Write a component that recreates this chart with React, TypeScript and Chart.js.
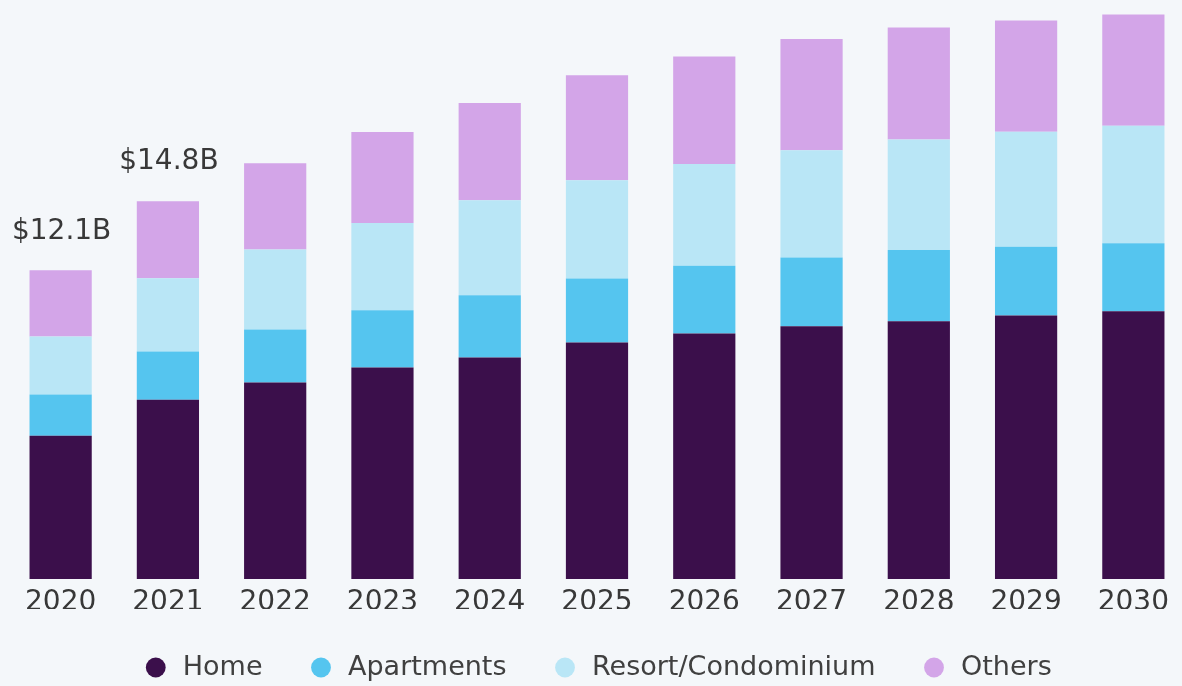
import React, { useEffect, useRef } from "react";
import { Chart, registerables } from "chart.js";

Chart.register(...registerables);

const years = ["2020", "2021", "2022", "2023", "2024", "2025", "2026", "2027", "2028", "2029", "2030"];
const home = [5.62, 7.03, 7.70, 8.29, 8.68, 9.27, 9.62, 9.91, 10.10, 10.33, 10.50];
const apartments = [1.61, 1.89, 2.08, 2.24, 2.44, 2.51, 2.66, 2.69, 2.80, 2.69, 2.66];
const resort = [2.28, 2.87, 3.14, 3.42, 3.73, 3.85, 3.99, 4.21, 4.33, 4.51, 4.61];
const others = [2.59, 3.02, 3.38, 3.57, 3.81, 4.12, 4.21, 4.36, 4.39, 4.36, 4.36];
const totalLabels = ["$12.1B", "$14.8B", "", "", "", "", "", "", "", "", ""];

const BG = "#f4f7fa";
const FONT = "'DejaVu Sans', sans-serif";

const bgPlugin = {
  id: "bg",
  beforeDraw(chart: any) {
    const { ctx, width, height } = chart;
    ctx.save();
    ctx.fillStyle = BG;
    ctx.fillRect(0, 0, width, height);
    ctx.restore();
  },
};

const totalsPlugin = {
  id: "totals",
  afterDatasetsDraw(chart: any) {
    const { ctx } = chart;
    const meta = chart.getDatasetMeta(chart.data.datasets.length - 1);
    ctx.save();
    ctx.font = `28px ${FONT}`;
    ctx.fillStyle = "#383838";
    ctx.textAlign = "center";
    ctx.textBaseline = "middle";
    meta.data.forEach((el: any, i: number) => {
      const t = totalLabels[i];
      if (!t) return;
      ctx.fillText(t, el.x + 1, el.y - 39);
    });
    ctx.restore();
  },
};

export default function App() {
  const ref = useRef<HTMLCanvasElement>(null);
  useEffect(() => {
    if (!ref.current) return;
    const chart = new Chart(ref.current, {
      type: "bar",
      data: {
        labels: years,
        datasets: [
          { label: "Home", data: home, backgroundColor: "#3b0f4b" },
          { label: "Apartments", data: apartments, backgroundColor: "#55c5ef" },
          { label: "Resort/Condominium", data: resort, backgroundColor: "#b9e6f6" },
          { label: "Others", data: others, backgroundColor: "#d3a5e8" },
        ],
      },
      options: {
        animation: false,
        responsive: false,
        devicePixelRatio: 1,
        layout: { padding: { left: 7, right: 8, top: 5, bottom: 0 } },
        datasets: { bar: { barPercentage: 0.58, categoryPercentage: 1 } },
        scales: {
          x: {
            stacked: true,
            grid: { display: false, drawTicks: false },
            border: { display: false },
            ticks: {
              color: "#383838",
              padding: 17,
              font: { family: FONT, size: 28, lineHeight: 0.5 },
            },
            afterFit(scale: any) {
              scale.height = 30;
            },
          },
          y: {
            stacked: true,
            display: false,
            min: 0,
            max: 22.5,
          },
        },
        plugins: {
          legend: {
            position: "bottom",
            labels: {
              usePointStyle: true,
              pointStyle: "circle",
              boxWidth: 27,
              boxHeight: 14,
              padding: 45,
              color: "#404040",
              font: { family: FONT, size: 27 },
            },
          },
          tooltip: { enabled: false },
        },
      },
      plugins: [bgPlugin, totalsPlugin],
    });
    return () => chart.destroy();
  }, []);
  return (
    <div
      style={{
        position: "fixed",
        left: 0,
        top: 0,
        width: 1182,
        height: 686,
        overflow: "hidden",
        background: BG,
      }}
    >
      <canvas ref={ref} width={1195} height={691} style={{ display: "block", width: 1195, height: 691 }} />
    </div>
  );
}
